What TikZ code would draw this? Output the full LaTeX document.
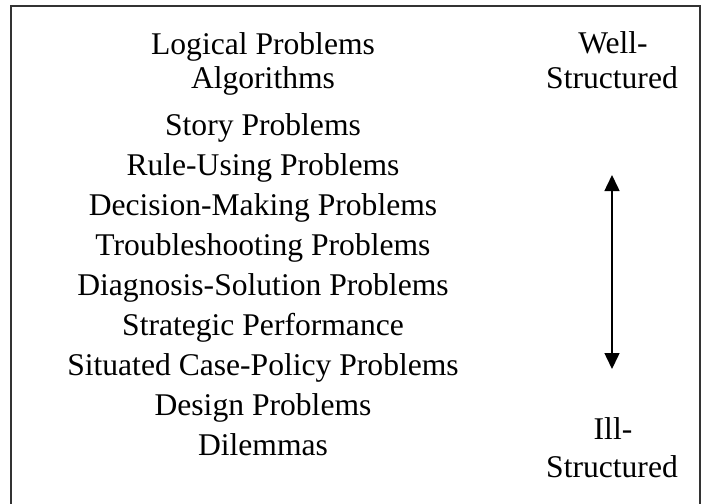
\documentclass[tikz,border=0pt]{standalone}
\usepackage{fontspec}
\setmainfont{Liberation Serif}
\usetikzlibrary{arrows.meta}
\begin{document}
\begin{tikzpicture}[x=1pt,y=-1pt,
  lbl/.style={anchor=base,inner sep=0pt,font=\fontsize{31.6}{36}\selectfont},
  frame/.style={draw=black!80,line width=2pt},
  dblarrow/.style={line width=1.5pt,{Triangle[width=15pt,length=16pt]}-{Triangle[width=15pt,length=16pt]}}]
\useasboundingbox (0,0) rectangle (708,503);
\fill[white] (0,0) rectangle (708,503);
\draw[frame] (11,520) -- (11,6) -- (700,6) -- (700,520);
\node[lbl] (t1) at (263,54) {Logical Problems};
\node[lbl] (t2) at (263,88) {Algorithms};
\node[lbl] (t3) at (263,135) {Story Problems};
\node[lbl] (t4) at (263,175) {Rule-Using Problems};
\node[lbl] (t5) at (263,215) {Decision-Making Problems};
\node[lbl] (t6) at (263,255) {Troubleshooting Problems};
\node[lbl] (t7) at (263,295) {Diagnosis-Solution Problems};
\node[lbl] (t8) at (263,335) {Strategic Performance};
\node[lbl] (t9) at (263,375) {Situated Case-Policy Problems};
\node[lbl] (t10) at (263,415) {Design Problems};
\node[lbl] (t11) at (263,455) {Dilemmas};
\node[lbl] (w1) at (613,53) {Well-};
\node[lbl] (w2) at (612,88) {Structured};
\node[lbl] (i1) at (613,439) {Ill-};
\node[lbl] (i2) at (612,477) {Structured};
\coordinate (atop) at (612,175);
\coordinate (abot) at (612,369);
\draw[dblarrow] (atop) -- (abot);
\end{tikzpicture}
\end{document}
